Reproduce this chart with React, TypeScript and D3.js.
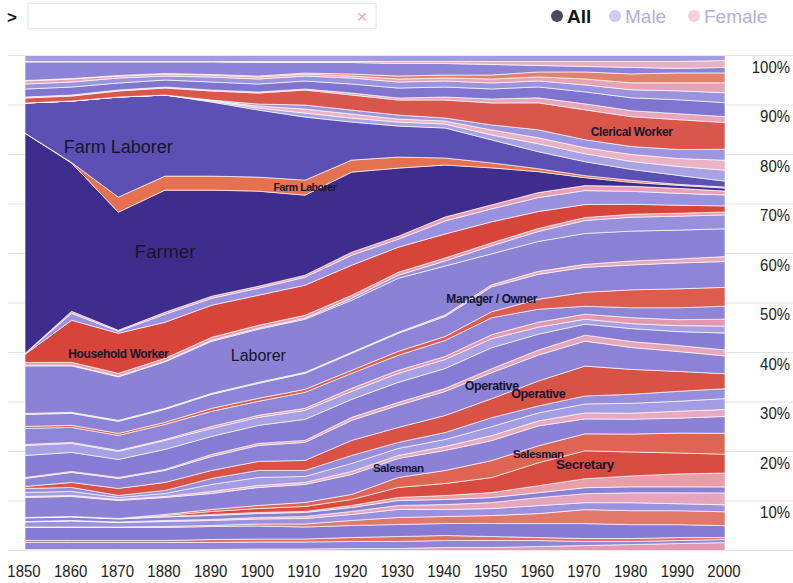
import React from 'react';
import * as d3 from 'd3';

// ---------- data (share of labour force, %) ----------
const years = [1850, 1860, 1870, 1880, 1890, 1900, 1910, 1920, 1930, 1940, 1950, 1960, 1970, 1980, 1990, 2000];

const nurseF = [0.2, 0.2, 0.2, 0.2, 0.2, 0.3, 0.3, 0.4, 0.4, 0.6, 0.6, 0.8, 1.0, 1.2, 1.4, 1.6];
const accountantM = [1.4, 1.4, 1.4, 1.4, 1.4, 1.4, 1.4, 1.4, 1.4, 1.4, 1.4, 1.2, 0.8, 0.6, 0.6, 0.6];
const bookkeeperF = [0.4, 0.4, 0.4, 0.4, 0.6, 0.6, 0.6, 0.8, 1.0, 1.0, 0.8, 0.6, 0.6, 0.6, 0.6, 0.4];
const mechanicM = [2.6, 2.6, 2.6, 2.6, 2.6, 2.6, 2.4, 2.4, 2.4, 2.4, 2.6, 2.8, 3.0, 2.8, 2.6, 2.4];
const cashierF = [0.1, 0.1, 0.1, 0.2, 0.2, 0.4, 0.6, 1.0, 1.4, 1.4, 1.6, 2.0, 2.8, 2.8, 2.8, 2.8];
const machinistM = [1.0, 1.2, 0.9, 1.0, 1.0, 1.0, 1.1, 1.2, 1.6, 1.4, 1.4, 1.6, 1.4, 1.6, 1.4, 1.4];
const waitressF = [0.1, 0.1, 0.1, 0.2, 0.2, 0.3, 0.4, 0.6, 0.8, 1.0, 1.2, 1.6, 1.8, 2.0, 2.2, 2.4];
const painterM = [0.7, 0.7, 0.6, 0.7, 0.8, 0.8, 0.8, 0.8, 1.0, 1.0, 1.0, 1.0, 1.2, 1.2, 1.2, 1.2];
const cookF = [0.1, 0.1, 0.1, 0.1, 0.2, 0.2, 0.2, 0.4, 0.6, 0.8, 1.0, 1.4, 1.8, 2.2, 2.6, 2.8];
const secretaryF = [0, 0, 0, 0.2, 0.6, 0.8, 1.0, 1.2, 2.0, 2.4, 3.0, 4.6, 5.6, 4.8, 4.2, 3.8];
const salesmanF = [0, 0, 0, 0.2, 0.4, 0.6, 0.8, 1.0, 2.0, 2.6, 3.4, 3.4, 3.4, 3.6, 4.0, 4.2];
const salesmanM = [4.0, 4.0, 3.6, 3.4, 3.2, 3.6, 3.6, 4.0, 3.8, 4.0, 4.0, 4.0, 3.0, 3.0, 3.0, 3.4];
const dressmakerF = [0.2, 0.2, 0.2, 0.2, 0.4, 0.4, 0.4, 0.6, 0.6, 0.8, 1.0, 1.0, 1.2, 1.2, 1.4, 1.4];
const blacksmithM = [0.8, 0.8, 0.4, 0.6, 1.4, 1.6, 1.2, 1.6, 1.4, 1.4, 1.8, 1.6, 1.8, 2.0, 2.0, 2.2];
const guardM = [0.8, 0.8, 0.4, 0.6, 1.2, 1.4, 1.2, 1.6, 1.2, 1.4, 1.8, 1.4, 1.6, 1.8, 2.0, 2.0];
const operativeF = [0.4, 1.0, 1.4, 1.6, 1.6, 1.8, 2.0, 3.0, 3.0, 3.4, 3.8, 5.0, 6.0, 5.0, 4.0, 3.0];
const operativeM = [1.6, 2.0, 2.0, 2.4, 2.8, 3.2, 3.6, 4.0, 4.4, 4.8, 5.2, 5.2, 5.0, 4.4, 4.0, 3.6];
const laundressF = [0.2, 0.2, 0.2, 0.2, 0.4, 0.4, 0.4, 0.6, 0.6, 0.6, 0.8, 1.0, 1.2, 1.2, 1.2, 1.2];
const craftsmanM = [4.4, 3.8, 3.6, 4.0, 3.6, 3.6, 4.2, 3.6, 4.0, 4.0, 4.2, 3.2, 2.2, 2.6, 2.8, 3.4];
const engineerM = [2.0, 1.8, 1.6, 1.8, 1.6, 1.6, 1.8, 1.6, 1.8, 1.8, 1.8, 1.4, 1.0, 1.0, 1.2, 1.4];
const bakerF = [0.2, 0.2, 0.2, 0.2, 0.4, 0.4, 0.4, 0.6, 0.6, 0.6, 0.8, 1.0, 1.0, 1.2, 1.2, 1.4];
const truckDriverM = [3.2, 3.0, 3.0, 3.0, 3.0, 2.8, 3.2, 3.0, 3.0, 3.2, 3.4, 2.6, 1.6, 2.0, 2.4, 2.6];
const teacherF = [0.4, 0.4, 0.4, 0.4, 0.6, 0.6, 0.6, 0.6, 0.8, 0.8, 1.2, 2.0, 2.8, 3.6, 3.8, 3.8];
const managerM = [2.4, 2.4, 2.4, 2.6, 2.8, 3.0, 3.2, 3.4, 3.6, 4.0, 5.0, 5.0, 5.0, 5.0, 5.2, 5.2];
const managerF = [0.2, 0.2, 0.2, 0.2, 0.2, 0.2, 0.2, 0.2, 0.2, 0.3, 0.4, 0.6, 0.6, 0.8, 0.8, 1.0];
const laborerM = [9.5, 9.3, 8.7, 9.3, 10.4, 10.6, 10.6, 10.4, 10.8, 9.8, 6.2, 6.0, 6.2, 6.0, 5.8, 5.6];
const carpenterM = [0.1, 0.1, 0.1, 0.1, 0.2, 0.2, 0.2, 0.4, 0.6, 1.0, 1.6, 2.0, 2.6, 2.8, 2.8, 2.8];
const laborerF = [0.6, 0.6, 0.6, 0.6, 0.6, 0.6, 0.6, 0.6, 0.6, 0.6, 0.6, 0.6, 0.6, 0.6, 0.6, 0.6];
const householdF = [1.6, 8.4, 8.0, 7.2, 6.4, 6.0, 6.0, 6.0, 5.0, 4.8, 4.2, 3.4, 2.6, 2.0, 1.6, 1.2];
const minerM = [0.1, 1.4, 0.4, 1.6, 1.4, 1.4, 1.6, 2.0, 1.6, 2.6, 2.6, 2.8, 2.8, 2.6, 2.4, 2.2];
const farmerF = [0.1, 0.4, 0.2, 0.4, 0.4, 0.4, 0.4, 0.6, 0.6, 0.8, 0.8, 1.0, 1.0, 1.0, 1.0, 0.8];
const farmerM = [44.0, 29.6, 23.6, 24.4, 21.2, 19.0, 16.0, 16.0, 13.6, 10.4, 7.4, 4.2, 1.6, 0.8, 0.6, 0.6];
const farmLaborerF = [0.04, 0.1, 3.0, 2.8, 2.8, 2.8, 3.0, 2.4, 2.2, 1.4, 1.0, 0.6, 0.4, 0.4, 0.2, 0.2];
const farmLaborerM = [6.0, 12.3, 20.0, 16.2, 14.8, 13.4, 12.6, 7.6, 6.2, 6.0, 4.6, 3.4, 2.8, 2.2, 1.8, 1.2];
const porterM = [0, 0, 0, 0, 0.2, 0.4, 0.8, 0.8, 0.8, 0.8, 1.0, 1.6, 1.6, 1.6, 1.8, 2.2];
const operatorF = [0, 0, 0, 0, 0.1, 0.4, 0.8, 0.8, 0.6, 0.6, 1.0, 1.2, 1.2, 1.4, 1.6, 2.0];
const clerkM = [0, 0, 0, 0, 0.1, 0.4, 0.8, 0.8, 0.8, 0.6, 1.0, 1.6, 1.6, 1.6, 1.8, 2.2];
const clericalF = [1.0, 1.0, 1.2, 1.4, 1.8, 2.2, 3.0, 3.0, 3.0, 3.6, 4.4, 5.4, 6.0, 6.0, 6.0, 5.4];
const typistF = [0.2, 0.2, 0.2, 0.2, 0.2, 0.2, 0.2, 0.4, 0.4, 0.6, 0.8, 1.0, 1.2, 1.2, 1.2, 1.2];
const clericalM = [1.6, 1.6, 1.4, 1.4, 1.6, 1.6, 1.6, 1.8, 2.0, 2.0, 2.0, 2.2, 2.4, 2.6, 2.8, 2.8];
const physicianM = [1.0, 1.0, 1.0, 0.8, 1.0, 1.0, 1.0, 1.2, 1.2, 1.2, 1.2, 1.2, 1.4, 1.6, 1.8, 2.0];
const librarianF = [0.6, 0.6, 0.4, 0.4, 0.4, 0.4, 0.4, 0.4, 0.6, 0.6, 0.8, 0.8, 1.2, 1.4, 1.6, 2.0];
const socialWorkerF = [0.1, 0.1, 0.1, 0.1, 0.1, 0.2, 0.2, 0.4, 0.6, 0.6, 0.8, 1.0, 1.4, 1.8, 2.0, 2.0];
const lawyerM = [3.7, 3.3, 2.7, 2.3, 2.5, 2.7, 2.1, 2.3, 2.5, 2.3, 2.1, 1.3, 1.1, 1.3, 0.9, 1.1];
const professionalF = [0.1, 0.1, 0.1, 0.1, 0.1, 0.2, 0.2, 0.2, 0.4, 0.4, 0.6, 0.8, 1.0, 1.2, 1.4, 1.4];
const clergyM = [1.2, 1.2, 1.2, 1.2, 1.2, 1.2, 1.2, 1.2, 1.2, 1.2, 1.2, 1.2, 1.2, 1.2, 1.2, 1.0];

// stacking order: bottom to top
const layers = [
  { key: 'nurseF', values: nurseF },
  { key: 'accountantM', values: accountantM },
  { key: 'bookkeeperF', values: bookkeeperF },
  { key: 'mechanicM', values: mechanicM },
  { key: 'cashierF', values: cashierF },
  { key: 'machinistM', values: machinistM },
  { key: 'waitressF', values: waitressF },
  { key: 'painterM', values: painterM },
  { key: 'cookF', values: cookF },
  { key: 'secretaryF', values: secretaryF },
  { key: 'salesmanF', values: salesmanF },
  { key: 'salesmanM', values: salesmanM },
  { key: 'dressmakerF', values: dressmakerF },
  { key: 'blacksmithM', values: blacksmithM },
  { key: 'guardM', values: guardM },
  { key: 'operativeF', values: operativeF },
  { key: 'operativeM', values: operativeM },
  { key: 'laundressF', values: laundressF },
  { key: 'craftsmanM', values: craftsmanM },
  { key: 'engineerM', values: engineerM },
  { key: 'bakerF', values: bakerF },
  { key: 'truckDriverM', values: truckDriverM },
  { key: 'teacherF', values: teacherF },
  { key: 'managerM', values: managerM },
  { key: 'managerF', values: managerF },
  { key: 'laborerM', values: laborerM },
  { key: 'carpenterM', values: carpenterM },
  { key: 'laborerF', values: laborerF },
  { key: 'householdF', values: householdF },
  { key: 'minerM', values: minerM },
  { key: 'farmerF', values: farmerF },
  { key: 'farmerM', values: farmerM },
  { key: 'farmLaborerF', values: farmLaborerF },
  { key: 'farmLaborerM', values: farmLaborerM },
  { key: 'porterM', values: porterM },
  { key: 'operatorF', values: operatorF },
  { key: 'clerkM', values: clerkM },
  { key: 'clericalF', values: clericalF },
  { key: 'typistF', values: typistF },
  { key: 'clericalM', values: clericalM },
  { key: 'physicianM', values: physicianM },
  { key: 'librarianF', values: librarianF },
  { key: 'socialWorkerF', values: socialWorkerF },
  { key: 'lawyerM', values: lawyerM },
  { key: 'professionalF', values: professionalF },
  { key: 'clergyM', values: clergyM },
];

const layerColors: Record<string, string> = {
  nurseF: '#e39ab0', accountantM: '#8f86d9', bookkeeperF: '#e0705f', mechanicM: '#857bd4',
  cashierF: '#e2786a', machinistM: '#9a92de', waitressF: '#e6a5bd', painterM: '#8a81d6',
  cookF: '#e7a0a8', secretaryF: '#d84b40', salesmanF: '#de6553', salesmanM: '#8b82d7',
  dressmakerF: '#e8aac0', blacksmithM: '#a59de3', guardM: '#968edc', operativeF: '#d95246',
  operativeM: '#8c83d7', laundressF: '#e8a6bb', craftsmanM: '#867cd4', engineerM: '#a7a0e4',
  bakerF: '#e497ad', truckDriverM: '#8e85d8', teacherF: '#dc5c4e', managerM: '#8d84d8',
  managerF: '#e9a9bd', laborerM: '#8b82d6', carpenterM: '#9890dd', laborerF: '#ec9fb0',
  householdF: '#d6443a', minerM: '#9a92df', farmerF: '#e8a0b6', farmerM: '#3e2d8c',
  farmLaborerF: '#e4714f', farmLaborerM: '#5c50b4', porterM: '#a9a2e5', operatorF: '#eab3c6',
  clerkM: '#9d95e0', clericalF: '#d9574a', typistF: '#e9a5b9', clericalM: '#7f75d1',
  physicianM: '#9b93de', librarianF: '#e6a3b6', socialWorkerF: '#e3826c', lawyerM: '#8c83d7',
  professionalF: '#e8b0c4', clergyM: '#a29ae2',
};

const labels = [
  { text: 'Farm Laborer', key: 'farmLaborerM', year: 1870, size: 18, weight: 400 },
  { text: 'Farmer', key: 'farmerM', year: 1880, size: 19, weight: 400 },
  { text: 'Household Worker', key: 'householdF', year: 1870, size: 12, weight: 700 },
  { text: 'Laborer', key: 'laborerM', year: 1900, size: 16, weight: 400 },
  { text: 'Manager / Owner', key: 'managerM', year: 1950, size: 12, weight: 700 },
  { text: 'Farm Laborer', key: 'farmLaborerF', year: 1910, size: 10.5, weight: 700 },
  { text: 'Clerical Worker', key: 'clericalF', year: 1980, size: 12, weight: 700 },
  { text: 'Operative', key: 'operativeM', year: 1950, size: 12.5, weight: 700 },
  { text: 'Operative', key: 'operativeF', year: 1960, size: 12.5, weight: 700 },
  { text: 'Salesman', key: 'salesmanM', year: 1930, size: 11.5, weight: 700 },
  { text: 'Salesman', key: 'salesmanF', year: 1960, size: 11.5, weight: 700 },
  { text: 'Secretary', key: 'secretaryF', year: 1970, size: 13.5, weight: 700 },
];

const yTicks = [0, 0.1, 0.2, 0.3, 0.4, 0.5, 0.6, 0.7, 0.8, 0.9, 1.0];

const FONT = "'Liberation Sans', Arial, Helvetica, sans-serif";

export default function App() {
  const W = 793;
  const H = 583;
  const x = d3.scaleLinear().domain([1850, 2000]).range([25, 725]);
  const y = d3.scaleLinear().domain([0, 1]).range([550.5, 55.5]);

  const rows = years.map((yr, i) => {
    const r: any = { year: yr };
    layers.forEach((l) => (r[l.key] = l.values[i]));
    return r;
  });
  const series = d3
    .stack<any>()
    .keys(layers.map((l) => l.key))
    .order(d3.stackOrderNone)
    .offset(d3.stackOffsetExpand)(rows);

  const area = d3
    .area<any>()
    .x((d) => x(d.data.year))
    .y0((d) => y(d[0]))
    .y1((d) => y(d[1]));

  const seriesByKey: Record<string, any> = {};
  series.forEach((s) => (seriesByKey[s.key] = s));

  return (
    <svg width={W} height={H} style={{ position: 'absolute', left: 0, top: 0, background: '#fff' }} fontFamily={FONT}>
      {/* header */}
      <text x={12} y={23} fontSize={17} fontWeight={700} fill="#111" textAnchor="middle">&gt;</text>
      <rect x={28} y={3.5} width={348} height={25} fill="#fff" stroke="#e6e6e6" />
      <text x={362} y={23} fontSize={19} fill="#f2a7b6" textAnchor="middle">×</text>
      <circle cx={557} cy={16} r={6} fill="#4c4c58" />
      <text x={567} y={23} fontSize={19} fontWeight={700} fill="#111">All</text>
      <circle cx={615} cy={16} r={6} fill="#cdc9f1" />
      <text x={625} y={23} fontSize={19} fill="#b3aedb">Male</text>
      <circle cx={694} cy={16} r={6} fill="#f6d0de" />
      <text x={704} y={23} fontSize={19} fill="#b3aedb">Female</text>

      {/* grid lines */}
      {yTicks.map((t) => (
        <line key={'g' + t} x1={8} x2={793} y1={y(t)} y2={y(t)} stroke="#e2e2e2" strokeWidth={1} />
      ))}

      {/* stacked areas */}
      <g>
        {series.map((s) => (
          <path
            key={s.key}
            d={area(s) || ''}
            fill={layerColors[s.key]}
            stroke="#ffffff"
            strokeOpacity={0.72}
            strokeWidth={0.9}
          />
        ))}
      </g>

      {/* occupation labels */}
      {labels.map((lb, i) => {
        const s = seriesByKey[lb.key];
        const idx = years.indexOf(lb.year);
        const d = s[idx];
        const cy = y((d[0] + d[1]) / 2);
        return (
          <text
            key={'l' + i}
            x={x(lb.year)}
            y={cy}
            dy="0.35em"
            textAnchor="middle"
            fontSize={lb.size}
            fontWeight={lb.weight}
            fill="#17142e"
            letterSpacing={lb.weight === 700 ? -0.4 : 0}
          >
            {lb.text}
          </text>
        );
      })}

      {/* y axis labels */}
      {yTicks.filter((t) => t > 0).map((t) => (
        <text
          key={'y' + t}
          transform={`translate(790,${y(t) + 17}) scale(0.88,1)`}
          textAnchor="end"
          fontSize={17}
          fill="#222"
        >
          {Math.round(t * 100) + '%'}
        </text>
      ))}

      {/* x axis labels */}
      {years.map((yr) => (
        <text
          key={'x' + yr}
          transform={`translate(${x(yr) - 1},577) scale(0.88,1)`}
          textAnchor="middle"
          fontSize={17}
          fill="#222"
        >
          {yr}
        </text>
      ))}
    </svg>
  );
}
